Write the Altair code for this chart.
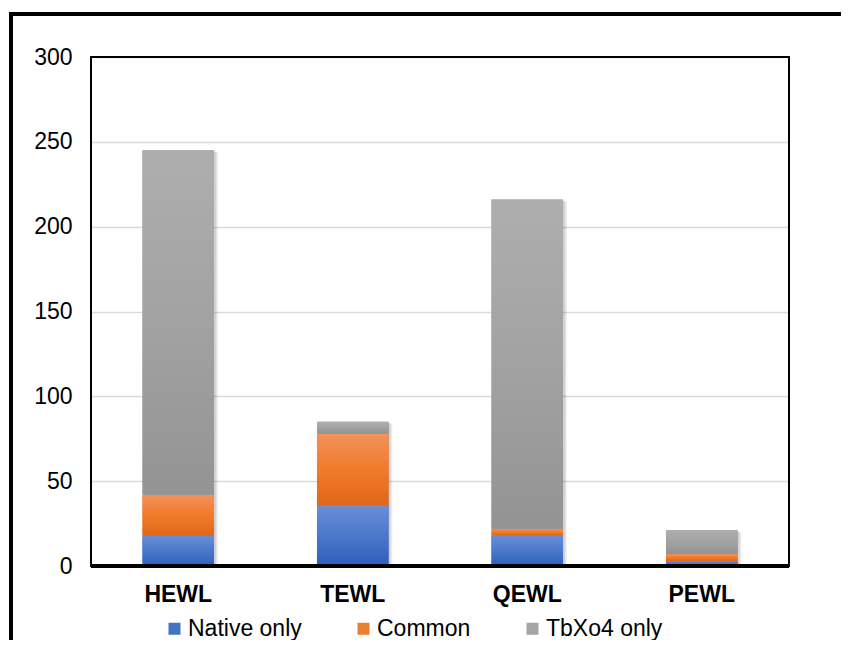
import altair as alt
import pandas as pd

categories = ["HEWL", "TEWL", "QEWL", "PEWL"]
series = ["Native only", "Common", "TbXo4 only"]
native_only = [18, 36, 18, 3]
common = [24, 42, 4, 4]
tbxo4_only = [203, 7, 194, 14]
y_ticks = [0, 50, 100, 150, 200, 250, 300]

solid = ["#4472C4", "#ED7D31", "#A5A5A5"]
grad_stops = {
    "Native only": ["#6A8ED6", "#4A78CB", "#2F5FBD"],
    "Common": ["#F2925C", "#F07B2A", "#E0671A"],
    "TbXo4 only": ["#AEAEAE", "#A2A2A2", "#939393"],
}

rows = []
for i, c in enumerate(categories):
    for j, (s, vals) in enumerate(zip(series, [native_only, common, tbxo4_only])):
        rows.append({"cat": c, "series": s, "value": vals[i], "order": j})
df = pd.DataFrame(rows)

FONT = "Liberation Sans"
W, H = 698, 509

x_scale = alt.Scale(paddingInner=0.59, paddingOuter=0.295)
y_scale = alt.Scale(domain=[0, 300], nice=False)

x_enc = alt.X(
    "cat:N",
    sort=categories,
    title=None,
    scale=x_scale,
    axis=alt.Axis(
        labelAngle=0, labelFont=FONT, labelFontSize=23, labelFontWeight="bold",
        labelColor="#000000", labelPadding=17, ticks=False,
        domain=False, grid=False,
    ),
)
y_enc = alt.Y(
    "y1:Q",
    title=None,
    scale=y_scale,
    axis=alt.Axis(
        values=y_ticks, labelFont=FONT, labelFontSize=23, labelColor="#000000",
        labelPadding=19, ticks=False, domain=False, grid=True,
        gridColor="#D9D9D9", gridWidth=1.5,
    ),
)

base = alt.Chart(df).transform_stack(
    stack="value", groupby=["cat"], as_=["y0", "y1"],
    sort=[alt.SortField("order", order="ascending")],
)

# soft shadow behind each stacked bar
shadows = []
for off, op in [(4, 0.05), (3, 0.06), (2, 0.07)]:
    shadows.append(
        alt.Chart(df).mark_bar(color="#000000", opacity=op, xOffset=off, yOffset=off / 2)
        .encode(x=alt.X("cat:N", sort=categories), y=alt.Y("sum(value):Q"))
    )

main = base.mark_bar().encode(
    x=x_enc,
    y=y_enc,
    y2="y0:Q",
    color=alt.Color(
        "series:N",
        sort=series,
        scale=alt.Scale(domain=series, range=solid),
        legend=alt.Legend(
            title=None, orient="none", legendX=72, legendY=560, padding=0,
            direction="horizontal", columns=3, symbolType="square",
            symbolSize=144, symbolStrokeWidth=0, labelFont=FONT,
            labelFontSize=23, labelColor="#000000", labelOffset=2,
            columnPadding=50,
        ),
    ),
)

layers_rest = []
for s in series:
    st = grad_stops[s]
    g = alt.Gradient(
        gradient="linear", x1=0, x2=0, y1=0, y2=1,
        stops=[
            alt.GradientStop(offset=0, color=st[0]),
            alt.GradientStop(offset=0.5, color=st[1]),
            alt.GradientStop(offset=1, color=st[2]),
        ],
    )
    layers_rest.append(
        base.transform_filter(alt.datum.series == s)
        .mark_bar(color=g)
        .encode(x=alt.X("cat:N", sort=categories), y="y1:Q", y2="y0:Q")
    )

plot_border = alt.Chart(df).mark_rect(
    filled=False, stroke="#000000", strokeWidth=2
).encode(x=alt.value(0), x2=alt.value(W), y=alt.value(0), y2=alt.value(H))
baseline = alt.Chart(df).mark_rule(color="#000000", strokeWidth=3).encode(
    x=alt.value(0), x2=alt.value(W), y=alt.value(H)
)
frame = alt.Chart(df).mark_rect(
    filled=False, stroke="#000000", strokeWidth=3
).encode(
    x=alt.value(-80), x2=alt.value(900), y=alt.value(-43), y2=alt.value(800)
)

all_layers = [main] + shadows + layers_rest + [plot_border, baseline, frame]

chart = alt.layer(*all_layers).resolve_scale(x="shared", y="shared").properties(
    width=W, height=H,
    autosize=alt.AutoSizeParams(type="none"),
    padding={"left": 83, "top": 49, "right": 52, "bottom": 74},
).configure_view(
    strokeWidth=0
).configure(background="#FFFFFF")

chart.save("out.html", embed_options={"renderer": "svg", "actions": False})
